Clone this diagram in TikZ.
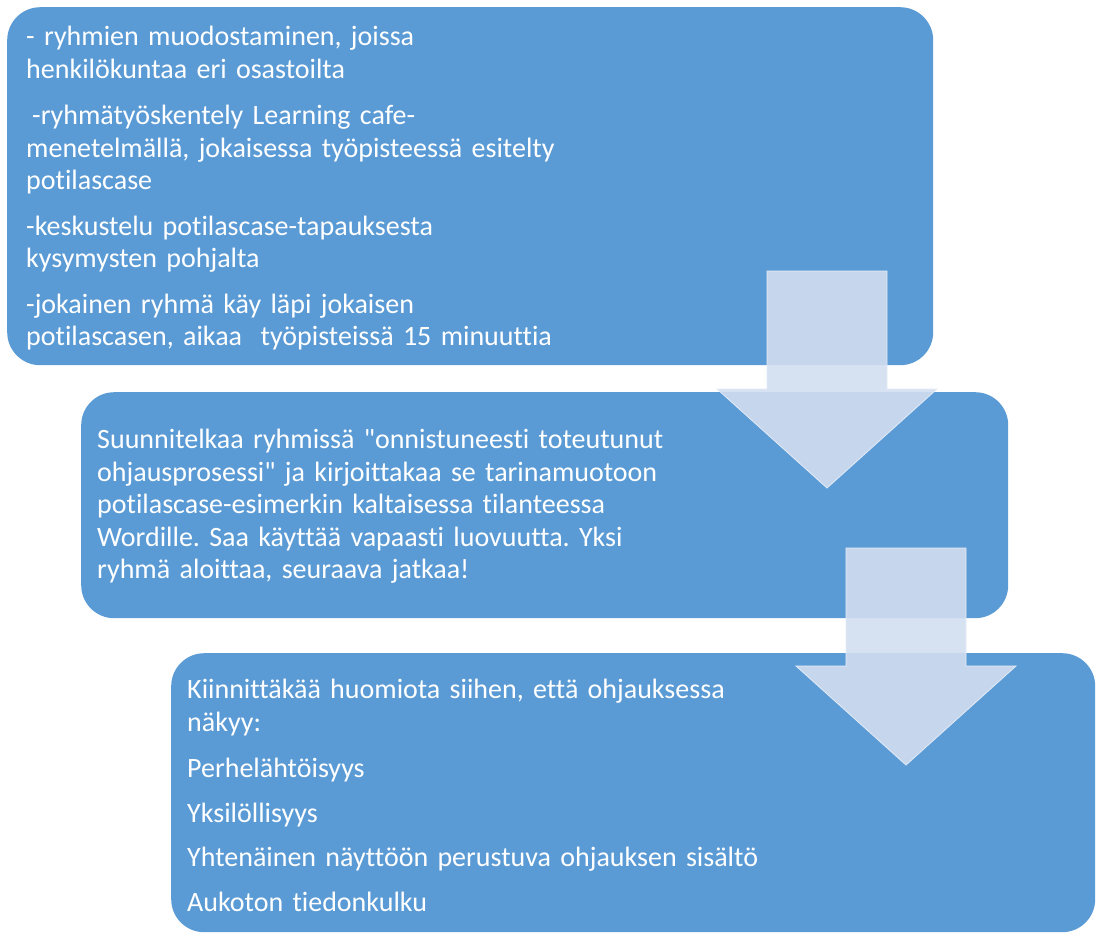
\documentclass[tikz,border=0pt]{standalone}
\usepackage{fontspec}
\setmainfont{Carlito}[Ligatures={TeXOff,NoCommon}]
\usepackage{tikz}
\usetikzlibrary{positioning,calc}
\definecolor{mBox}{HTML}{5B9BD5}
\definecolor{mArrow}{HTML}{D2DEF0}
\tikzset{
  stagebox/.style={fill=mBox,draw=none,rounded corners=33pt,anchor=north west,inner sep=0pt},
  stagetext/.style={anchor=north west,inner sep=0pt,text=white,align=left,text width=760pt,
    font=\fontsize{28}{32.5}\selectfont\frenchspacing},
  downarrow/.style={fill=mArrow,fill opacity=0.9,draw=mArrow!60!white,line width=0.8pt,line join=miter}
}

\begin{document}
\begin{tikzpicture}[x=1pt,y=-1pt]
\useasboundingbox (0,0) rectangle (1096,938);

\node[stagebox,minimum width=926pt,minimum height=358pt] (step1) at (7,7) {};
\node[stagebox,minimum width=927pt,minimum height=226pt] (step2) at (81,392) {};
\node[stagebox,minimum width=924pt,minimum height=279pt] (step3) at (171,653) {};

\node[stagetext] (step1text) at (26,26)
{- ryhmien muodostaminen, joissa\\
henkilökuntaa eri osastoilta\\[14pt]
\hspace*{6pt}-ryhmätyöskentely Learning cafe-\\
menetelmällä, jokaisessa työpisteessä esitelty\\
potilascase\\[13pt]
-keskustelu potilascase-tapauksesta\\
kysymysten pohjalta\\[13pt]
-jokainen ryhmä käy läpi jokaisen\\
potilascasen, aikaa\ \ työpisteissä 15 minuuttia};

\node[stagetext] (step2text) at (97,429)
{Suunnitelkaa ryhmissä "onnistuneesti toteutunut\\
ohjausprosessi" ja kirjoittakaa se tarinamuotoon\\
potilascase-esimerkin kaltaisessa tilanteessa\\
Wordille. Saa käyttää vapaasti luovuutta. Yksi\\
ryhmä aloittaa, seuraava jatkaa!};

\node[stagetext] (step3text) at (187,679)
{Kiinnittäkää huomiota siihen, että ohjauksessa\\
näkyy:\\[14pt]
Perhelähtöisyys\\[12pt]
Yksilöllisyys\\[12pt]
Yhtenäinen näyttöön perustuva ohjauksen sisältö\\[12pt]
Aukoton tiedonkulku};

\foreach \cx/\cy in {827/271,906/548}
  \draw[downarrow] (\cx-60,\cy) -- ++(120,0) -- ++(0,118) -- ++(50,0)
    -- (\cx,\cy+217) -- (\cx-110,\cy+118) -- ++(50,0) -- cycle;
\end{tikzpicture}
\end{document}
